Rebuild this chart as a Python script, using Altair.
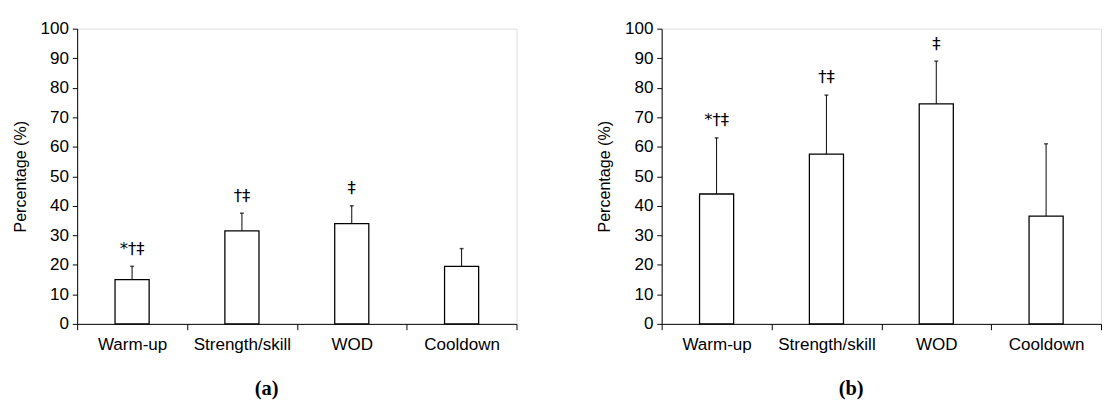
import altair as alt
import pandas as pd

categories = ["Warm-up", "Strength/skill", "WOD", "Cooldown"]
a_mean = [15, 31.5, 34, 19.5]
a_upper = [19.5, 37.5, 40, 25.5]
b_mean = [44, 57.5, 74.5, 36.5]
b_upper = [63, 77.5, 89, 61]
a_marks = ["*†‡", "†‡", "‡", ""]
b_marks = ["*†‡", "†‡", "‡", ""]
panel_labels = ["(a)", "(b)"]
y_ticks = [0, 10, 20, 30, 40, 50, 60, 70, 80, 90, 100]

FONT = "Liberation Sans"


def panel(mean, upper, marks, label):
    df = pd.DataFrame({"cat": categories, "mean": mean, "upper": upper, "mark": marks})
    x = alt.X(
        "cat:N",
        sort=categories,
        scale=alt.Scale(paddingInner=0, paddingOuter=0),
        axis=alt.Axis(
            title=label,
            titleFont="Liberation Serif",
            titleFontWeight="bold",
            titleFontSize=21,
            titleColor="black",
            titlePadding=26,
            titleX=194,
            labelAngle=0,
            labelFont=FONT,
            labelFontSize=17.5,
            labelColor="black",
            labelPadding=6,
            tickBand="extent",
            tickSize=6,
            tickColor="black",
            domainColor="black",
        ),
    )
    yaxis = alt.Axis(
        title="Percentage (%)",
        titleFont=FONT,
        titleFontSize=16.5,
        titleFontWeight="normal",
        titleColor="black",
        titlePadding=12,
        values=y_ticks,
        labelOverlap=False,
        labelFont=FONT,
        labelFontSize=17.5,
        labelColor="black",
        labelPadding=4,
        tickSize=5,
        tickColor="black",
        domainColor="black",
        grid=False,
    )
    yscale = alt.Scale(domain=[0, 100], nice=False)
    base = alt.Chart(df)
    bars = base.mark_bar(fill="white", stroke="black", strokeWidth=1.3, size=35).encode(
        x=x, y=alt.Y("mean:Q", scale=yscale, axis=yaxis)
    )
    err = base.mark_rule(color="black", strokeWidth=1).encode(
        x=x, y=alt.Y("mean:Q", scale=yscale, axis=yaxis), y2="upper:Q"
    )
    cap = base.mark_tick(color="black", size=4, thickness=1.5).encode(
        x=x, y=alt.Y("upper:Q", scale=yscale, axis=yaxis)
    )
    txt = base.mark_text(
        font="DejaVu Sans", fontSize=17, color="#000000", baseline="bottom", dy=-9
    ).encode(x=x, y=alt.Y("upper:Q", scale=yscale, axis=yaxis), text="mark:N")
    return alt.layer(bars, err, cap, txt).properties(width=451, height=303)


chart = (
    alt.hconcat(
        panel(a_mean, a_upper, a_marks, panel_labels[0]),
        panel(b_mean, b_upper, b_marks, panel_labels[1]),
        spacing=81,
    )
    .properties(padding={"left": 4, "top": 6, "right": 0, "bottom": 0})
    .configure_view(stroke=None)
    .configure(background="white")
)

chart.save("out.html", embed_options={"renderer": "svg", "actions": False})
